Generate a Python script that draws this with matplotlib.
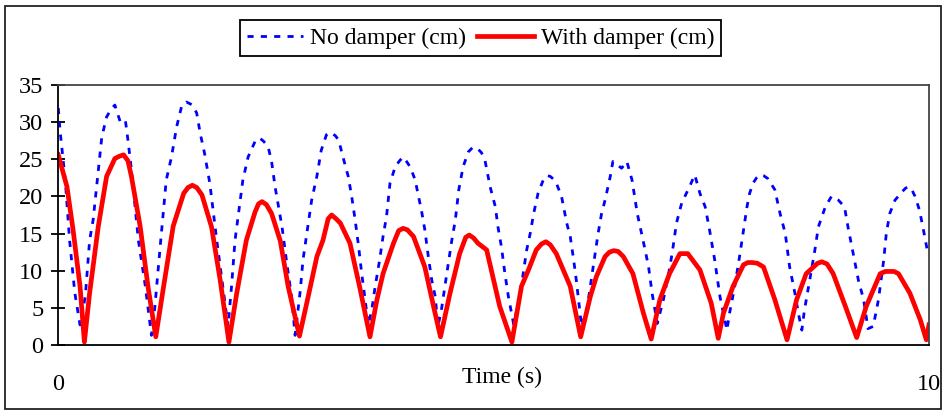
import matplotlib
matplotlib.use("Agg")
import matplotlib.pyplot as plt
from matplotlib.patches import Rectangle

plt.rcParams["font.family"] = ["Liberation Serif", "DejaVu Serif"]

# displacement without damper (cm)
no_damper_t = [0, 0.02, 0.08, 0.13, 0.19, 0.25, 0.31, 0.36, 0.40, 0.44, 0.50, 0.555, 0.61, 0.65, 0.71, 0.77, 0.80, 0.84, 0.92,
               1.00, 1.07, 1.11, 1.17, 1.24, 1.30, 1.36, 1.42, 1.47, 1.51, 1.55, 1.59, 1.63, 1.68, 1.74, 1.82, 1.90, 1.95,
               1.99, 2.03, 2.07, 2.12, 2.18, 2.26, 2.29, 2.32, 2.36, 2.41, 2.45, 2.49, 2.53, 2.57, 2.62, 2.68, 2.72,
               2.78, 2.81, 2.85, 2.91, 2.97, 3.02, 3.08, 3.11, 3.14, 3.18, 3.22, 3.27, 3.33, 3.37, 3.41, 3.45, 3.48, 3.52, 3.56,
               3.60, 3.64, 3.69, 3.73, 3.77, 3.81, 3.87, 3.92, 3.96, 4.00, 4.04, 4.10, 4.13, 4.17, 4.21, 4.25, 4.29, 4.33, 4.36,
               4.40, 4.44, 4.48, 4.52, 4.56, 4.60, 4.65, 4.71, 4.76, 4.81, 4.86, 4.90, 4.96, 5.02, 5.05, 5.09, 5.13, 5.17, 5.23,
               5.30, 5.34, 5.38, 5.42, 5.46, 5.51, 5.57, 5.61, 5.65, 5.69, 5.72, 5.78, 5.84, 5.88, 5.92, 5.95, 6.01,
               6.07, 6.11, 6.16, 6.20, 6.24, 6.28, 6.34, 6.37, 6.47, 6.53, 6.59, 6.65, 6.70, 6.74, 6.78, 6.82, 6.88,
               6.95, 7.01, 7.05, 7.10, 7.16, 7.25, 7.31, 7.37, 7.43, 7.48, 7.54, 7.60, 7.68,
               7.71, 7.77, 7.83, 7.87, 7.91, 7.94, 7.98, 8.02, 8.06, 8.10, 8.15, 8.23, 8.29, 8.35, 8.40, 8.46, 8.50, 8.54,
               8.57, 8.63, 8.69, 8.73, 8.81, 8.88, 8.96, 9.03, 9.07, 9.13, 9.19, 9.25, 9.30,
               9.36, 9.42, 9.48, 9.51, 9.55, 9.61, 9.69, 9.73, 9.76, 9.80, 9.84, 9.89, 9.93, 9.98]
no_damper_cm = [31.9, 28.9, 22.2, 14.1, 7.0, 2.7, 6.5, 14.1, 16.8, 21.3, 28.0, 30.7, 31.8, 32.3, 30.1, 30.3, 27.6, 23.6, 14.1,
                7.9, 1.3, 5.2, 13.2, 22.2, 25.3, 29.4, 32.3, 32.7, 32.5, 32.2, 31.2, 28.5, 25.8, 21.8, 14.1, 7.0, 2.5,
                7.9, 14.1, 17.7, 22.2, 25.3, 27.4, 27.8, 27.8, 27.4, 26.7, 24.7, 21.3, 18.6, 15.9, 11.4, 6.5, 1.3,
                7.4, 11.4, 14.6, 19.5, 22.7, 26.2, 28.3, 28.6, 28.5, 28.2, 27.6, 25.3, 22.7, 20.0, 16.8, 13.2, 10.1, 6.5, 2.7,
                4.7, 7.9, 11.4, 14.6, 17.3, 21.8, 24.0, 24.8, 25.3, 24.7, 24.0, 22.2, 20.4, 18.2, 15.5, 11.9, 8.7, 6.5, 2.5,
                4.7, 7.9, 11.0, 14.1, 16.8, 20.9, 24.0, 26.0, 26.6, 26.5, 25.9, 24.9, 21.3, 18.6, 15.9, 13.2, 9.6, 6.5, 2.8,
                6.5, 9.6, 12.8, 15.0, 17.7, 20.4, 22.2, 22.8, 22.7, 22.3, 21.8, 20.0, 16.4, 14.6, 11.4, 8.7, 2.5,
                4.7, 7.9, 11.9, 15.0, 17.7, 19.5, 22.7, 24.7, 23.8, 24.7, 22.2, 17.7, 15.0, 12.8, 10.5, 7.0, 2.9,
                6.1, 9.6, 12.3, 16.4, 19.1, 21.3, 22.9, 20.4, 18.6, 15.5, 11.4, 6.5, 2.0,
                4.3, 7.9, 12.3, 15.5, 18.6, 20.4, 21.8, 22.5, 22.9, 22.8, 22.4, 20.9, 17.7, 15.0, 10.5, 7.0, 4.3, 2.0,
                4.7, 8.7, 12.8, 15.9, 18.6, 20.0, 19.5, 18.6, 15.9, 12.3, 8.7, 6.1, 2.2,
                2.5, 6.1, 11.4, 15.0, 17.7, 19.5, 20.6, 21.1, 21.3, 21.0, 20.0, 18.2, 15.9, 12.8]

# displacement with damper (cm)
with_damper_t = [0, 0.10, 0.17, 0.25, 0.30, 0.36, 0.46, 0.555, 0.65, 0.70, 0.75, 0.80, 0.84, 0.94, 1.03, 1.12,
                 1.21, 1.32, 1.44, 1.49, 1.54, 1.59, 1.65, 1.76, 1.86, 1.96,
                 2.05, 2.16, 2.26, 2.30, 2.34, 2.39, 2.45, 2.55, 2.64, 2.77,
                 2.87, 2.97, 3.04, 3.10, 3.14, 3.19, 3.24, 3.35, 3.46, 3.58,
                 3.66, 3.73, 3.85, 3.91, 3.96, 4.01, 4.08, 4.21, 4.31, 4.39,
                 4.50, 4.61, 4.68, 4.72, 4.77, 4.82, 4.92, 5.07, 5.21,
                 5.32, 5.40, 5.49, 5.55, 5.60, 5.65, 5.72, 5.88, 6.00,
                 6.11, 6.18, 6.28, 6.33, 6.38, 6.43, 6.49, 6.60, 6.72, 6.81,
                 6.91, 7.02, 7.14, 7.23, 7.37, 7.50, 7.58,
                 7.64, 7.75, 7.87, 7.92, 7.97, 8.03, 8.10, 8.23, 8.37,
                 8.48, 8.59, 8.72, 8.77, 8.83, 8.90, 9.04, 9.17,
                 9.28, 9.44, 9.50, 9.55, 9.60, 9.65, 9.78, 9.90, 9.97, 10.0]
with_damper_cm = [25.6, 21.3, 15.5, 7.9, 0.4, 7.0, 16.0, 22.7, 25.1, 25.4, 25.6, 24.8, 22.7, 16.0, 7.9, 1.1,
                  7.9, 16.0, 20.4, 21.2, 21.5, 21.2, 20.2, 15.9, 8.7, 0.4,
                  7.0, 14.1, 17.9, 19.0, 19.3, 18.9, 17.7, 14.0, 7.9, 1.2,
                  6.5, 11.9, 14.1, 17.0, 17.5, 17.0, 16.4, 13.7, 7.9, 1.1,
                  6.1, 9.6, 13.7, 15.4, 15.7, 15.5, 14.6, 10.5, 5.2, 1.1,
                  7.0, 12.3, 14.5, 14.8, 14.4, 13.7, 12.8, 5.2, 0.4,
                  7.9, 10.1, 12.8, 13.6, 13.9, 13.5, 12.3, 7.9, 1.1,
                  6.5, 9.2, 11.9, 12.5, 12.7, 12.6, 11.9, 9.6, 4.3, 0.8,
                  6.1, 9.6, 12.3, 12.3, 10.1, 5.6, 0.9,
                  4.3, 7.9, 10.8, 11.1, 11.1, 11.0, 10.5, 6.1, 0.7,
                  6.1, 9.6, 11.0, 11.2, 10.9, 9.6, 5.2, 1.0,
                  5.2, 9.6, 9.9, 9.9, 9.9, 9.6, 7.0, 3.4, 0.7, 2.7]

fig = plt.figure(figsize=(9.43, 4.11), dpi=100)
ax = fig.add_axes([0.0618, 0.1606, 0.9233, 0.6326])

ax.plot(no_damper_t, no_damper_cm, color="#0000ff", lw=2.0, dashes=(2.2, 2.6),
        label="No damper (cm)")
ax.plot(with_damper_t, with_damper_cm, color="#ff0000", lw=3.4,
        solid_joinstyle="round", label="With damper (cm)")

ax.set_xlim(0, 10)
ax.set_ylim(0, 35)
ax.set_yticks(range(0, 36, 5))
ax.set_xticks([0, 10])
ax.tick_params(axis="y", direction="inout", length=9.5, width=1.3, pad=6, labelsize=17.5)
ax.tick_params(axis="x", length=0, pad=21, labelsize=17.5)
ax.text(0.51, -0.125, "Time (s)", transform=ax.transAxes, ha="center", va="center", fontsize=17)

for side in ["left", "bottom"]:
    ax.spines[side].set_color("black")
    ax.spines[side].set_linewidth(1.3)
for side in ["top", "right"]:
    ax.spines[side].set_color("#444444")
    ax.spines[side].set_linewidth(1.3)

leg = fig.legend(loc="center", bbox_to_anchor=(0.5095, 0.9075), ncol=2, fontsize=17,
                 frameon=True, fancybox=False, edgecolor="black", framealpha=1,
                 handlelength=2.4, handletextpad=0.3, columnspacing=0.45, borderpad=0.3)
leg.get_frame().set_linewidth(1.3)

# outer border around the whole figure
fig.patches.append(Rectangle((0.005, 0.004), 0.993, 0.981, transform=fig.transFigure,
                             fill=False, edgecolor="#222222", lw=1.3))

fig.savefig("out.png", dpi=100)
